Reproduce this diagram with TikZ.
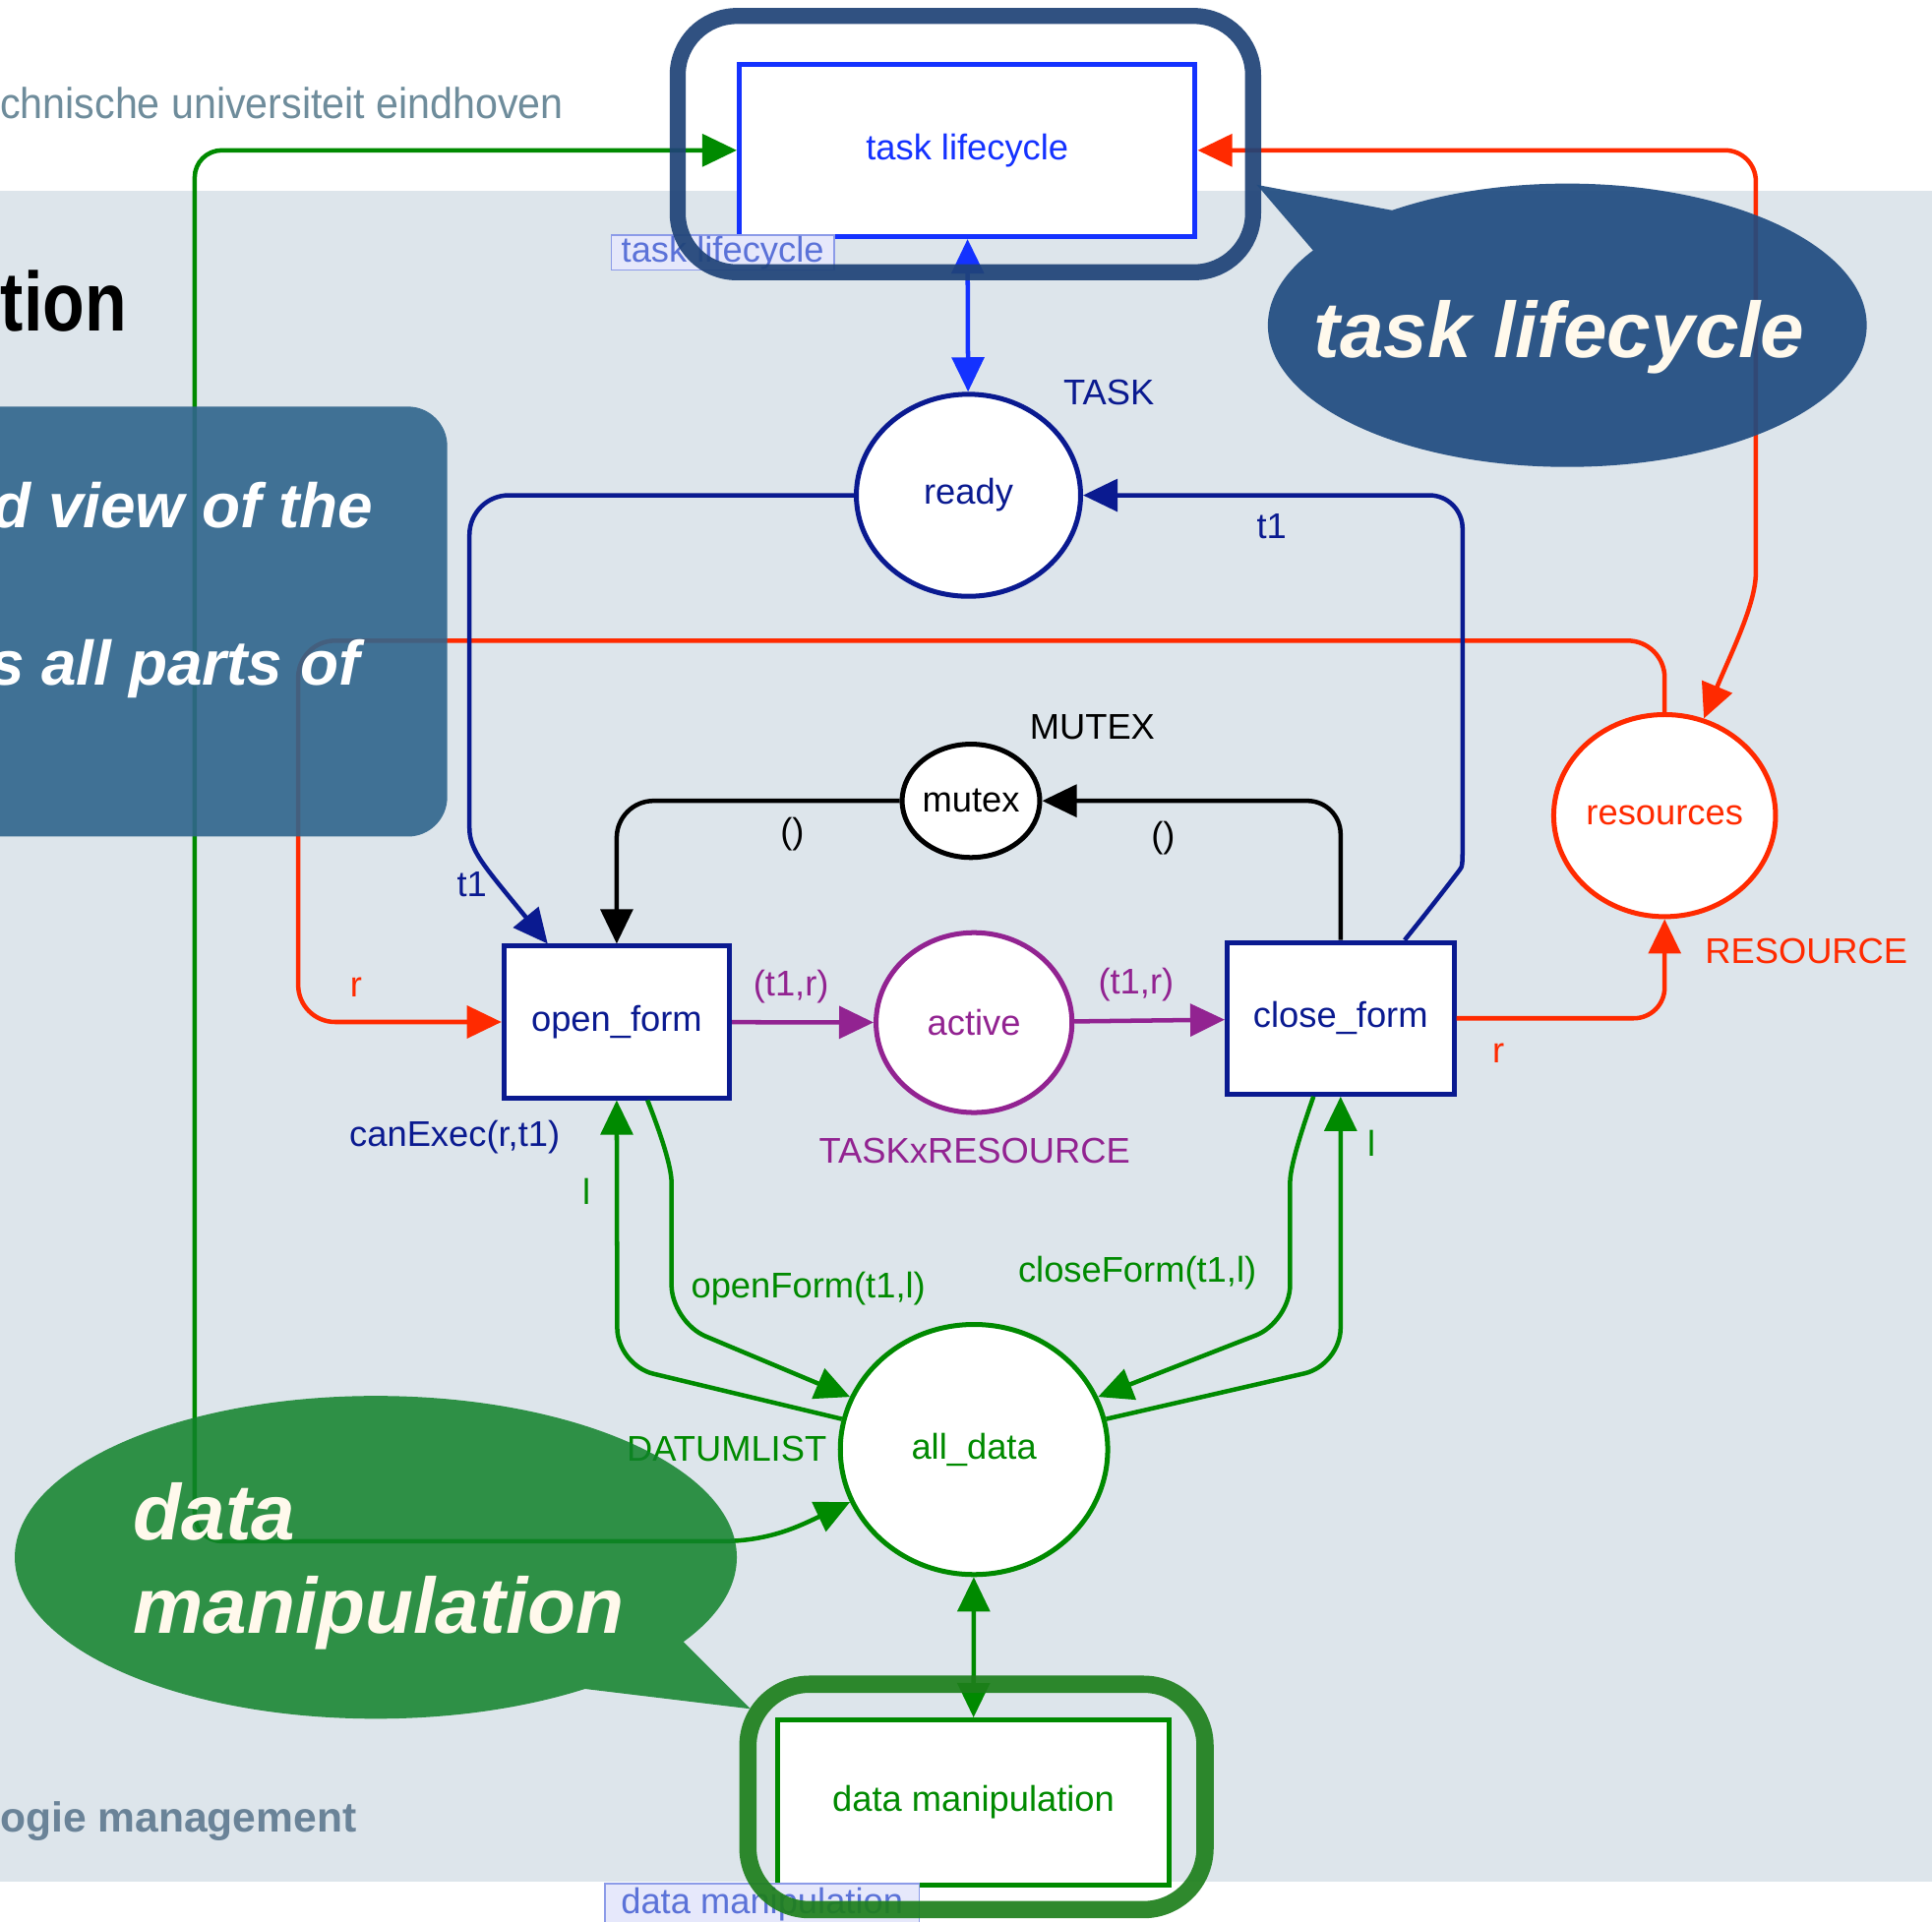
\documentclass[tikz,border=0pt]{standalone}
\usepackage{fontspec}
\setmainfont{Liberation Sans}
\usetikzlibrary{shapes.geometric,arrows.meta}
\newcommand\myfs[1]{\fontsize{#1}{#1}\selectfont}
\definecolor{navy}{RGB}{10,26,144}
\definecolor{tlblue}{RGB}{20,50,255}
\definecolor{cpnred}{RGB}{255,42,0}
\definecolor{cpnpurple}{RGB}{146,35,145}
\definecolor{cpngreen}{RGB}{0,138,0}
\definecolor{slidebg}{RGB}{221,229,235}
\definecolor{tuegray}{RGB}{110,140,155}
\definecolor{mgmtgray}{RGB}{106,131,152}
\definecolor{boxblue}{RGB}{48,101,140}
\definecolor{frameblue}{RGB}{31,67,119}
\definecolor{bubbleblue}{RGB}{32,75,128}
\definecolor{bubblegreen}{RGB}{16,130,42}
\definecolor{framegreen}{RGB}{30,127,28}
\definecolor{cream}{RGB}{255,249,236}
\definecolor{tagfill}{RGB}{230,232,251}
\definecolor{tagline}{RGB}{140,155,232}
\definecolor{tagtext}{RGB}{91,114,216}
\begin{document}
\begin{tikzpicture}[x=1pt,y=-1pt,
  >={Triangle[length=28pt,width=26pt]},
  place/.style={ellipse, draw=#1, text=#1, fill=white, line width=4pt, inner sep=0pt, font=\myfs{29}},
  trans/.style={rectangle, draw=#1, text=#1, fill=white, line width=4pt, inner sep=0pt, font=\myfs{29}},
  arcline/.style={line width=3.6pt},
  lbl/.style={inner sep=0pt, font=\myfs{29}},
  tag/.style={draw=tagline, fill=tagfill, text=tagtext, line width=1.2pt, inner sep=0pt, font=\myfs{29}},
  bubbletext/.style={inner sep=0pt, text=cream, font=\myfs{64}\bfseries\itshape, anchor=base west},
  boxtext/.style={inner sep=0pt, text=white, font=\myfs{51}\bfseries\itshape, anchor=base east}]

% slide background
\useasboundingbox (0,0) rectangle (1568,1560);
\fill[white] (0,0) rectangle (1568,1560);
\fill[slidebg] (0,155) rectangle (1568,1527);

% slide texts
\node[inner sep=0pt, anchor=base west, text=tuegray] (tue) at (0,96)
  {\scalebox{0.94}[1]{\myfs{35}chnische universiteit eindhoven}};
\node[inner sep=0pt, anchor=base east] (ttl) at (103,269)
  {\scalebox{0.82}[1]{\myfs{68}\bfseries tion}};
\node[inner sep=0pt, anchor=base west, text=mgmtgray] (mgmt) at (0,1487)
  {\myfs{34}\bfseries ogie management};

% places and transitions
\node[trans=tlblue, minimum width=370pt, minimum height=140pt] (tl) at (785,122) {task lifecycle};
\node[place=navy, minimum width=182pt, minimum height=164pt] (ready) at (786,402) {ready};
\node[place=black, minimum width=100pt, minimum height=92pt] (mutex) at (788,650) {mutex};
\node[place=cpnred, minimum width=168pt, minimum height=164pt] (res) at (1351,662) {resources};
\node[place=cpnpurple, minimum width=159pt, minimum height=146pt] (active) at (790.5,830) {active};
\node[place=cpngreen, minimum width=217pt, minimum height=203pt] (alldata) at (790.5,1176.5) {all\_data};
\node[trans=navy, minimum width=183pt, minimum height=123pt] (of) at (500.5,829.5) {open\_form};
\node[trans=navy, minimum width=184pt, minimum height=123pt] (cf) at (1088,826.5) {close\_form};
\node[trans=cpngreen, minimum width=318pt, minimum height=134pt] (dm) at (790,1463) {data manipulation};

\coordinate (rleft) at (242,520);
\coordinate (gleft) at (158,1251);

% arcs
\draw[tlblue, arcline, <->] (tl) -- (ready);
\draw[cpngreen, arcline, <->] (alldata.203) .. controls (650,1238) and (625,1251) .. (585,1251)
  [rounded corners=22pt] -- (gleft) -- (158,122) -- (tl.west);
\draw[cpnred, arcline, <->, rounded corners=25pt] (tl.east) -- (1425,122) -- (1425,440)
  .. controls (1425,490) and (1405,530) .. (res.68);
\draw[cpnred, arcline, ->, rounded corners=30pt] (res.north) -- (res.north |- rleft) -- (rleft)
  -- (rleft |- of.west) -- (of.west);
\draw[cpnred, arcline, ->, rounded corners=25pt] (cf.east) -- (cf.east -| res.south) -- (res.south);
\draw[navy, arcline, ->, rounded corners=32pt] (ready.west) -- (381,402) -- (381,640)
  .. controls (381,690) and (392,702) .. ([xshift=-56pt]of.north);
\draw[navy, arcline, ->, rounded corners=27pt] ([xshift=52pt]cf.north) -- (1168,728)
  .. controls (1187,703) .. (1187,655) -- (1187,402) -- (ready.east);
\draw[black, arcline, ->, rounded corners=27pt] (cf.north) -- (cf.north |- mutex.east) -- (mutex.east);
\draw[black, arcline, ->, rounded corners=30pt] (mutex.west) -- (mutex.west -| of.north) -- (of.north);
\draw[cpnpurple, arcline, ->] (of) -- (active);
\draw[cpnpurple, arcline, ->] (active) -- (cf);
\draw[cpngreen, arcline, ->, rounded corners=30pt] (alldata.167) -- (501,1108) -- (of.south);
\draw[cpngreen, arcline, ->, rounded corners=30pt] ([xshift=25pt]of.south)
  .. controls (540,930) and (545,950) .. (545,990) -- (545,1073) -- (alldata.157);
\draw[cpngreen, arcline, ->, rounded corners=30pt] ([xshift=-22pt]cf.south)
  .. controls (1052,930) and (1047,950) .. (1047,990) -- (1047,1073) -- (alldata.23);
\draw[cpngreen, arcline, ->, rounded corners=30pt] (alldata.13) -- (1088,1108) -- (cf.south);
\draw[cpngreen, arcline, <->] (alldata) -- (dm);

% colour sets and inscriptions
\node[lbl, navy] (ctask) at (900,318.5) {TASK};
\node[lbl, black] (cmutex) at (886.5,590.5) {MUTEX};
\node[lbl, cpnred] (cres) at (1466,772) {RESOURCE};
\node[lbl, cpnpurple] (cact) at (791,934) {TASKxRESOURCE};
\node[lbl, cpngreen, anchor=east] (cdata) at (671,1176) {DATUMLIST};
\node[lbl, navy] (it1r) at (1032,427) {t1};
\node[lbl, navy] (it1l) at (383,718) {t1};
\node[lbl, black] (iml) at (643,677) {()};
\node[lbl, black] (imr) at (944,680) {()};
\node[lbl, cpnpurple] (ipl) at (642,801) {(t1,r)};
\node[lbl, cpnpurple] (ipr) at (922,799) {(t1,r)};
\node[lbl, cpnred] (irl) at (289,801) {r};
\node[lbl, cpnred] (irr) at (1216,855) {r};
\node[lbl, navy] (guard) at (369,923) {canExec(r,t1)};
\node[lbl, cpngreen] (ill) at (476,967) {l};
\node[lbl, cpngreen] (ilr) at (1113,928) {l};
\node[lbl, cpngreen] (iof) at (656,1046) {openForm(t1,l)};
\node[lbl, cpngreen] (icf) at (923,1033) {closeForm(t1,l)};

% subpage tags
\node[tag, minimum width=181pt, minimum height=28pt] (tag1) at (586.5,205) {task lifecycle};
\node[tag, minimum width=255pt, minimum height=33pt] (tag2) at (618.5,1545.5) {data manipulation};

% highlight frames
\draw[frameblue, line width=13pt, opacity=0.92, rounded corners=48pt] (550,13) rectangle (1017,221);
\draw[framegreen, line width=14pt, opacity=0.92, rounded corners=50pt] (607,1367) rectangle (978,1550);

% text box on the left
\fill[boxblue, opacity=0.9, rounded corners=32pt] (-60,330) rectangle (363,679);
\node[boxtext] (bx1) at (303,428) {d view of the};
\node[boxtext] (bx2) at (292,556) {s all parts of};

% call-out bubbles
\begin{scope}[transparency group, opacity=0.92]
  \fill[bubbleblue] (1272,264) ellipse [x radius=243pt, y radius=115pt];
  \fill[bubbleblue] (1020,150) -- (1142,173) -- (1080,220) -- cycle;
\end{scope}
\node[bubbletext] (btl) at (1066,290) {task lifecycle};

\begin{scope}[transparency group, opacity=0.85]
  \fill[bubblegreen] (305,1264) ellipse [x radius=293pt, y radius=131pt];
  \fill[bubblegreen] (609,1387) -- (545,1323) -- (460,1369) -- cycle;
\end{scope}
\node[bubbletext] (bdm1) at (108,1250) {data};
\node[bubbletext] (bdm2) at (108,1326) {manipulation};
\end{tikzpicture}
\end{document}
